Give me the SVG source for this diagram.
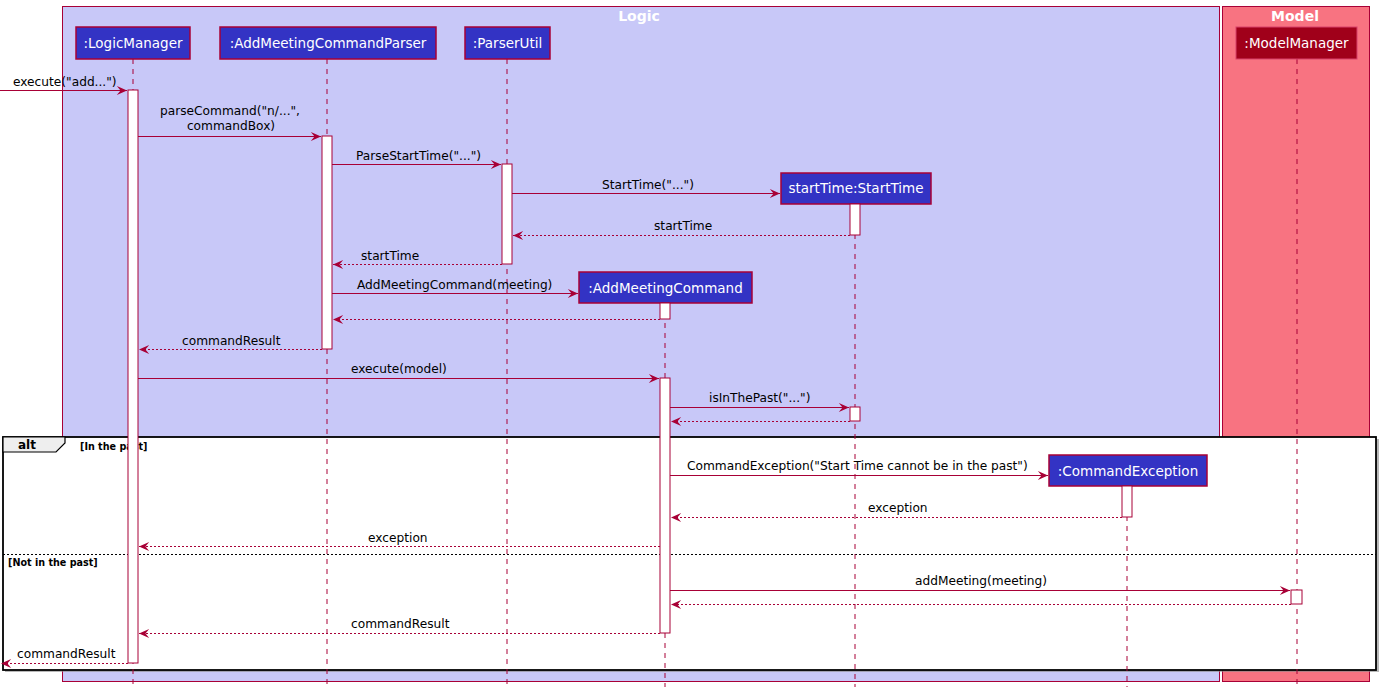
<svg xmlns="http://www.w3.org/2000/svg" width="1382" height="694" viewBox="0 0 1382 694">
<style>
text{font-family:"DejaVu Sans",Verdana,sans-serif;fill:#000}
.msg{font-size:12.2px}
.pt{font-size:13.5px;fill:#fff;text-anchor:middle}
.box{font-size:14px;font-weight:bold;fill:#fff;text-anchor:middle}
.part{fill:#3333C4;stroke:#A80036;stroke-width:1.5}
.life{stroke:#A80036;stroke-width:1;stroke-dasharray:5,5;fill:none}
.act{fill:#fff;stroke:#A80036;stroke-width:1}
.call{stroke:#A80036;stroke-width:1;fill:none;marker-end:url(#ah)}
.ret{stroke:#A80036;stroke-width:1;fill:none;stroke-dasharray:2,2;marker-end:url(#ah)}
.grd{font-size:9.6px;font-weight:bold}
</style>
<defs>
<marker id="ah" markerUnits="userSpaceOnUse" markerWidth="12" markerHeight="12" viewBox="-1 -6 13 12" refX="11" refY="0" orient="auto">
<path d="M0,-5 L11,0 L0,5 L4,0 Z" fill="#A80036"/>
</marker>
</defs>
<rect width="1382" height="694" fill="#fff"/>
<g id="box-logic">
<rect x="62.5" y="6.5" width="1157" height="675" fill="#C8C8F8" stroke="#A80036" stroke-width="1"/>
<text class="box" x="639" y="21">Logic</text>
</g>
<g id="box-model">
<rect x="1222.5" y="6.5" width="147" height="675" fill="#F87381" stroke="#A80036" stroke-width="1"/>
<text class="box" x="1295" y="21">Model</text>
</g>
<g id="alt-frame">
<rect x="5" y="439" width="1374" height="233" fill="#888" opacity="0.6"/>
<rect x="3" y="437" width="1373" height="233" fill="#fff" stroke="#000" stroke-width="1.8"/>
<path d="M3,437 L65,437 L65,443 L56,452 L3,452 Z" fill="#EEEEEE" stroke="#000" stroke-width="1.2"/>
<text x="18" y="449" style="font-size:12px;font-weight:bold">alt</text>
<text class="grd" x="80" y="450">[In the past]</text>
<line x1="3" y1="554.5" x2="1376" y2="554.5" stroke="#000" stroke-width="1" stroke-dasharray="2,2"/>
<text class="grd" x="8" y="566">[Not in the past]</text>
</g>
<g id="lifelines">
<line class="life" x1="133" y1="59" x2="133" y2="687"/>
<line class="life" x1="327" y1="59" x2="327" y2="687"/>
<line class="life" x1="507" y1="59" x2="507" y2="687"/>
<line class="life" x1="855" y1="204" x2="855" y2="687"/>
<line class="life" x1="665" y1="303" x2="665" y2="687"/>
<line class="life" x1="1127" y1="486" x2="1127" y2="687"/>
<line class="life" x1="1297" y1="59" x2="1297" y2="687"/>
</g>
<g id="p-logicmanager">
<rect class="part" x="76" y="27" width="114" height="32"/>
<text class="pt" x="133" y="48">:LogicManager</text>
</g>
<g id="p-parser">
<rect class="part" x="220" y="27" width="216" height="32"/>
<text class="pt" x="328" y="48">:AddMeetingCommandParser</text>
</g>
<g id="p-parserutil">
<rect class="part" x="465" y="27" width="85" height="32"/>
<text class="pt" x="507.5" y="48">:ParserUtil</text>
</g>
<g id="p-starttime">
<rect class="part" x="781" y="173" width="150" height="31"/>
<text class="pt" x="856" y="193">startTime:StartTime</text>
</g>
<g id="p-addmeetingcommand">
<rect class="part" x="579" y="272" width="173" height="31"/>
<text class="pt" x="665.5" y="293">:AddMeetingCommand</text>
</g>
<g id="p-commandexception">
<rect class="part" x="1049" y="455" width="158" height="31"/>
<text class="pt" x="1128" y="476">:CommandException</text>
</g>
<g id="p-modelmanager">
<rect x="1236" y="27" width="121" height="32" fill="#A0001A" stroke="#D8406A" stroke-width="1"/>
<text class="pt" x="1296.5" y="48">:ModelManager</text>
</g>
<g id="activations">
<rect class="act" x="128" y="90" width="10" height="573"/>
<rect class="act" x="322" y="136" width="10" height="213"/>
<rect class="act" x="502" y="164" width="10" height="100"/>
<rect class="act" x="850" y="204" width="10" height="31"/>
<rect class="act" x="660" y="303" width="10" height="16"/>
<rect class="act" x="660" y="378" width="10" height="255"/>
<rect class="act" x="850" y="407" width="10" height="14"/>
<rect class="act" x="1122" y="486" width="10" height="31"/>
<rect class="act" x="1291" y="590" width="11" height="14"/>
</g>
<g id="connectors">
<line class="call" x1="0" y1="90.5" x2="127" y2="90.5"/>
<text class="msg" x="13" y="86">execute("add...")</text>
<line class="call" x1="138" y1="136.5" x2="321" y2="136.5"/>
<text class="msg" x="230" y="115" text-anchor="middle">parseCommand("n/...",</text>
<text class="msg" x="231" y="130" text-anchor="middle">commandBox)</text>
<line class="call" x1="332" y1="164.5" x2="501" y2="164.5"/>
<text class="msg" x="356" y="160">ParseStartTime("...")</text>
<line class="call" x1="512" y1="193.5" x2="780" y2="193.5"/>
<text class="msg" x="602" y="189">StartTime("...")</text>
<line class="ret" x1="850" y1="235.5" x2="513" y2="235.5"/>
<text class="msg" x="654" y="230">startTime</text>
<line class="ret" x1="502" y1="264.5" x2="333" y2="264.5"/>
<text class="msg" x="361" y="260">startTime</text>
<line class="call" x1="332" y1="293.5" x2="578" y2="293.5"/>
<text class="msg" x="357" y="289">AddMeetingCommand(meeting)</text>
<line class="ret" x1="660" y1="319.5" x2="333" y2="319.5"/>
<line class="ret" x1="322" y1="349.5" x2="139" y2="349.5"/>
<text class="msg" x="182" y="345">commandResult</text>
<line class="call" x1="138" y1="378.5" x2="659" y2="378.5"/>
<text class="msg" x="351" y="373">execute(model)</text>
<line class="call" x1="670" y1="407.5" x2="849" y2="407.5"/>
<text class="msg" x="709" y="402">isInThePast("...")</text>
<line class="ret" x1="850" y1="421.5" x2="671" y2="421.5"/>
<line class="call" x1="670" y1="475.5" x2="1048" y2="475.5"/>
<text class="msg" x="687" y="470">CommandException("Start Time cannot be in the past")</text>
<line class="ret" x1="1122" y1="517.5" x2="671" y2="517.5"/>
<text class="msg" x="868" y="512">exception</text>
<line class="ret" x1="660" y1="546.5" x2="139" y2="546.5"/>
<text class="msg" x="368" y="542">exception</text>
<line class="call" x1="670" y1="590.5" x2="1290" y2="590.5"/>
<text class="msg" x="915" y="585">addMeeting(meeting)</text>
<line class="ret" x1="1291" y1="604.5" x2="671" y2="604.5"/>
<line class="ret" x1="660" y1="633.5" x2="139" y2="633.5"/>
<text class="msg" x="351" y="628">commandResult</text>
<line class="ret" x1="128" y1="663.5" x2="1" y2="663.5"/>
<text class="msg" x="17" y="658">commandResult</text>
</g>
</svg>
